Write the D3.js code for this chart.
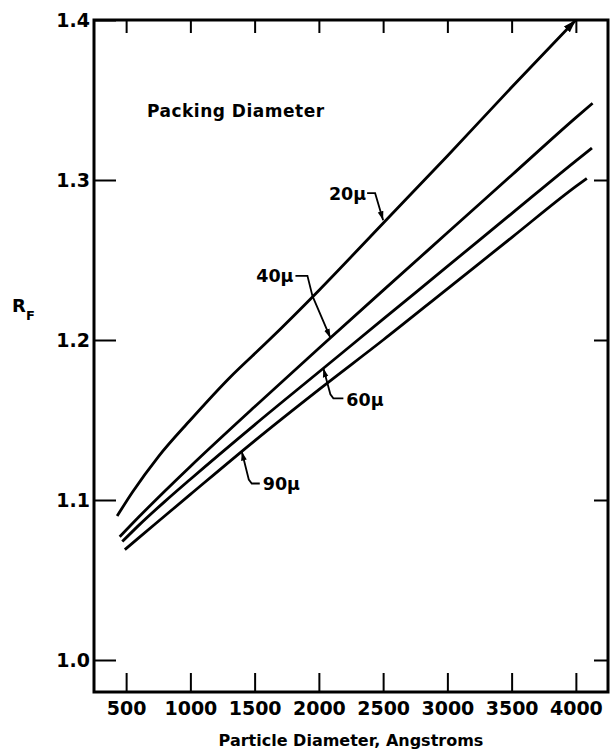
<!DOCTYPE html>
<html>
<head>
<meta charset="utf-8">
<script src="https://cdn.jsdelivr.net/npm/d3@7"></script>
<style>
	body { margin: 0; background: #fff; }
	text { font-family: "DejaVu Sans", sans-serif; font-weight: bold; fill: #000; }
</style>
</head>
<body>
<svg id="chart" width="614" height="751"></svg>
<script>
// particle diameter (angstroms) vs R_F, one curve per packing diameter
const packings = ["20μ", "40μ", "60μ", "90μ"];

const diam20 = [430, 550, 750, 1000, 1300, 1600, 2000, 2500, 3000, 3500, 4000];
const rf20 = [1.090, 1.105, 1.127, 1.150, 1.176, 1.199, 1.231, 1.273, 1.315, 1.358, 1.400];

const diam40 = [450, 600, 800, 1000, 1500, 2000, 2500, 3000, 3500, 4000, 4130];
const rf40 = [1.077, 1.0895, 1.1055, 1.121, 1.1583, 1.1948, 1.231, 1.267, 1.303, 1.339, 1.348];

const diam60 = [470, 600, 800, 1000, 1500, 2000, 2500, 3000, 3500, 4000, 4125];
const rf60 = [1.074, 1.0843, 1.099, 1.113, 1.147, 1.180, 1.213, 1.246, 1.279, 1.312, 1.320];

const diam90 = [490, 600, 800, 1000, 1500, 2000, 2500, 3000, 3500, 4000, 4085];
const rf90 = [1.069, 1.0765, 1.090, 1.1035, 1.137, 1.169, 1.200, 1.232, 1.264, 1.296, 1.301];

// diameter where each label's leader touches its curve
const labelDiam = [2500, 2090, 2035, 1400];

const xTicks = [500, 1000, 1500, 2000, 2500, 3000, 3500, 4000];
const yTicks = [1.0, 1.1, 1.2, 1.3, 1.4];

const svg = d3.select("#chart");
const frame = { left: 94, right: 608, top: 20, bottom: 692 };

const x = d3.scaleLinear().domain([250, 4250]).range([frame.left, frame.right]);
const y = d3.scaleLinear().domain([0.98, 1.4]).range([frame.bottom, frame.top]);

const series = [
	{ label: packings[0], xs: diam20, ys: rf20 },
	{ label: packings[1], xs: diam40, ys: rf40 },
	{ label: packings[2], xs: diam60, ys: rf60 },
	{ label: packings[3], xs: diam90, ys: rf90 },
];

const defs = svg.append("defs");
function marker(id, size) {
	defs.append("marker")
		.attr("id", id)
		.attr("viewBox", "0 0 10 10")
		.attr("refX", 10).attr("refY", 5)
		.attr("markerUnits", "userSpaceOnUse")
		.attr("markerWidth", size).attr("markerHeight", size)
		.attr("orient", "auto")
		.append("path").attr("d", "M0,1.8L10,5L0,8.2Z").attr("fill", "#000");
}
marker("tip", 9);
marker("bigtip", 13);

// axes: ticks point inward, no labels on top/right
const bottomAxis = d3.axisBottom(x).tickValues(xTicks).tickSizeInner(-19).tickSizeOuter(0).tickPadding(10).tickFormat(d3.format("d"));
const topAxis = d3.axisTop(x).tickValues(xTicks).tickSizeInner(-13).tickSizeOuter(0).tickFormat("");
const leftAxis = d3.axisLeft(y).tickValues(yTicks).tickSizeInner(-22).tickSizeOuter(0).tickPadding(4).tickFormat(d3.format(".1f"));
const rightAxis = d3.axisRight(y).tickValues(yTicks.slice(0, 4)).tickSizeInner(-14).tickSizeOuter(0).tickFormat("");

function styleAxis(g) {
	g.select(".domain").remove();
	g.selectAll(".tick line").attr("stroke", "#000").attr("stroke-width", 2);
	g.selectAll(".tick text").attr("font-size", 19).attr("font-family", null).attr("fill", "#000");
}

svg.append("g").attr("transform", `translate(0,${frame.bottom})`).call(bottomAxis).call(styleAxis);
svg.append("g").attr("transform", `translate(0,${frame.top})`).call(topAxis).call(styleAxis);
svg.append("g").attr("transform", `translate(${frame.left},0)`).call(leftAxis).call(styleAxis);
svg.append("g").attr("transform", `translate(${frame.right},0)`).call(rightAxis).call(styleAxis);

svg.append("rect")
	.attr("x", frame.left).attr("y", frame.top)
	.attr("width", frame.right - frame.left).attr("height", frame.bottom - frame.top)
	.attr("fill", "none").attr("stroke", "#000").attr("stroke-width", 3);

const line = d3.line()
	.x((d) => x(d[0]))
	.y((d) => y(d[1]))
	.curve(d3.curveMonotoneX);

svg.append("g").selectAll("path")
	.data(series)
	.join("path")
	.attr("d", (s) => line(d3.zip(s.xs, s.ys)))
	.attr("fill", "none")
	.attr("stroke", "#000")
	.attr("stroke-width", 2.8)
	.attr("marker-end", (s, i) => (i === 0 ? "url(#bigtip)" : null));

function valueAt(s, d) {
	const i = Math.max(1, d3.bisectLeft(s.xs, d));
	const t = (d - s.xs[i - 1]) / (s.xs[i] - s.xs[i - 1]);
	return s.ys[i - 1] + t * (s.ys[i] - s.ys[i - 1]);
}

// leader offsets from the tip (px) and where the label text sits
const leaders = [
	{ path: [[-16, -30], [-8, -30], [0, -3]], text: [-17, -23], anchor: "end" },
	{ path: [[-35, -62], [-23, -62], [-18, -42], [0, 0]], text: [-37, -56], anchor: "end" },
	{ path: [[20, 30], [10, 30], [7, 26], [0, 0]], text: [23, 38], anchor: "start" },
	{ path: [[18, 32], [10, 32], [7, 28], [0, 0]], text: [21, 38], anchor: "start" },
];

const notes = svg.append("g");
series.forEach((s, i) => {
	const tx = x(labelDiam[i]);
	const ty = y(valueAt(s, labelDiam[i]));
	const l = leaders[i];
	notes.append("path")
		.attr("d", d3.line()(l.path.map((p) => [tx + p[0], ty + p[1]])))
		.attr("fill", "none")
		.attr("stroke", "#000")
		.attr("stroke-width", 1.8)
		.attr("marker-end", "url(#tip)");
	notes.append("text")
		.attr("x", tx + l.text[0])
		.attr("y", ty + l.text[1])
		.attr("text-anchor", l.anchor)
		.attr("font-size", 17.5)
		.text(s.label);
});

svg.append("text")
	.attr("x", 147).attr("y", 117)
	.attr("font-size", 17)
	.attr("letter-spacing", 0.5)
	.text("Packing  Diameter");

svg.append("text")
	.attr("x", (frame.left + frame.right) / 2).attr("y", 746)
	.attr("text-anchor", "middle")
	.attr("font-size", 16)
	.text("Particle Diameter, Angstroms");

const rf = svg.append("text").attr("x", 12).attr("y", 312).attr("font-size", 18);
rf.append("tspan").text("R");
rf.append("tspan").attr("font-size", 13).attr("dy", 8).text("F");
</script>
</body>
</html>
